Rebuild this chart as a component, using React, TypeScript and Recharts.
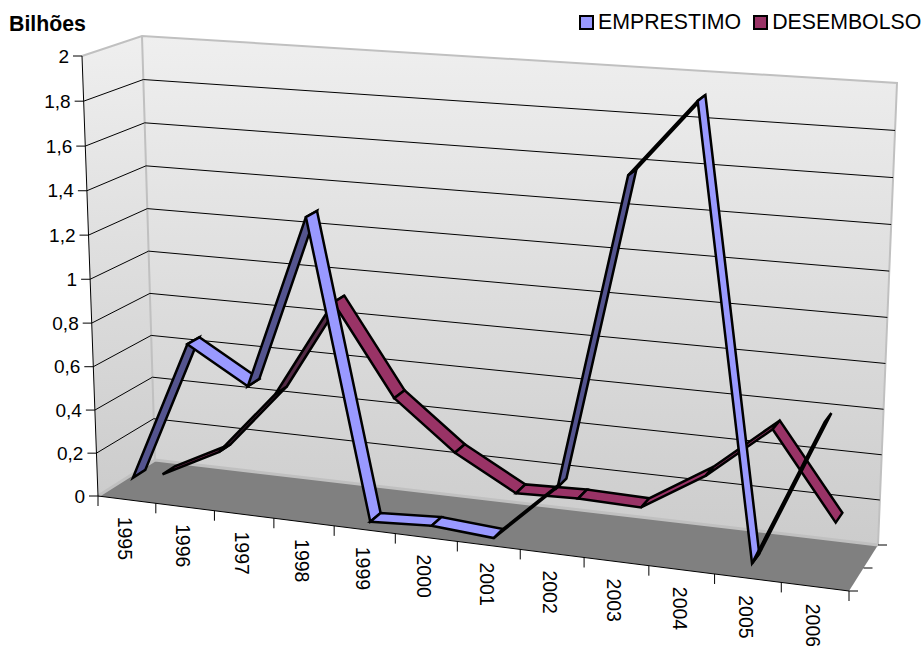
import React from 'react';
import { ComposedChart, Scatter, XAxis, YAxis, Legend } from 'recharts';

const YEARS = ['1995', '1996', '1997', '1998', '1999', '2000', '2001', '2002', '2003', '2004', '2005', '2006'];
const EMPRESTIMO = [0.082, 0.729, 0.567, 1.351, 0.015, 0.031, 0.011, 0.272, 1.646, 1.978, 0.041, 0.683];
const DESEMBOLSO = [0.01, 0.147, 0.45, 0.899, 0.49, 0.271, 0.118, 0.127, 0.12, 0.295, 0.531, 0.154];
const Y_TICKS = [0, 0.2, 0.4, 0.6, 0.8, 1, 1.2, 1.4, 1.6, 1.8, 2];
const SERIES_NAMES = ['EMPRESTIMO', 'DESEMBOLSO'];
const SERIES_COLORS = ['#9999ff', '#993366'];
const SERIES_DARK = ['#54548f', '#532a45'];

const WIDTH = 923;
const HEIGHT = 646;
const FONT = '"Liberation Sans", Arial, sans-serif';

// the 3D box as it lands on the page: [front|back][left|right][bottom|top]
const BOX = {
  flb: [98, 496], frb: [849, 591], blb: [155, 460], brb: [878, 545],
  flt: [82, 56], frt: [869, 111], blt: [142, 36], brt: [897, 83],
};
const lerp = (a: number, b: number, t: number) => a + (b - a) * t;
const PERSPECTIVE_X = 1.09;
const PERSPECTIVE_Y = 1.03;
const foreshorten = (q: number, p: number) => q / (p - (p - 1) * q);

// u = category position 0..1, v = axis value 0..2, w = depth 0..1
function project(u: number, v: number, w: number) {
  const s = foreshorten(u, PERSPECTIVE_X);
  const t = foreshorten(v / 2, PERSPECTIVE_Y);
  return [0, 1].map((k) => {
    const fb = lerp(BOX.flb[k], BOX.frb[k], s);
    const bb = lerp(BOX.blb[k], BOX.brb[k], s);
    const ft = lerp(BOX.flt[k], BOX.frt[k], s);
    const bt = lerp(BOX.blt[k], BOX.brt[k], s);
    return lerp(lerp(fb, bb, w), lerp(ft, bt, w), t);
  });
}

type Pt = number[];
const poly = (points: Pt[], style: any) => ({ x: points[0][0], y: points[0][1], points, ...style });
const label = (p: Pt, text: string, style: any) => ({ x: p[0], y: p[1], text, ...style });

const floorRows = [
  poly([project(0, 0, 0), project(1, 0, 0), project(1, 0, 1), project(0, 0, 1)], { fill: '#808080' }),
];
const wallRows = [
  poly([project(0, 0, 0), project(0, 0, 1), project(0, 2, 1), project(0, 2, 0)], { fill: 'url(#wallLeft)' }),
  poly([project(0, 0, 1), project(1, 0, 1), project(1, 2, 1), project(0, 2, 1)], { fill: 'url(#wallBack)' }),
];
const BORDER = { open: true, stroke: '#c0c0c0', strokeWidth: 2 };
const borderRows = [
  poly([project(0, 0, 0), project(0, 0, 1), project(1, 0, 1)], { ...BORDER, strokeWidth: 3 }),
  poly([project(0, 2, 0), project(0, 2, 1), project(1, 2, 1), project(1, 0, 1)], BORDER),
  poly([project(0, 2, 1), project(0, 0, 1)], BORDER),
];
const gridRows = Y_TICKS.slice(1, -1).map((v) =>
  poly([project(0, v, 0), project(0, v, 1), project(1, v, 1)], { open: true, stroke: '#000', strokeWidth: 1 }),
);

const TICK = { open: true, stroke: '#000', strokeWidth: 1 };
const offset = (p: Pt, dx: number, dy: number) => [p[0] + dx, p[1] + dy];
const axisRows = [
  poly([project(0, 2, 0), project(0, 0, 0), project(1, 0, 0)], TICK),
  ...Y_TICKS.map((v) => poly([project(0, v, 0), offset(project(0, v, 0), -9, 0)], TICK)),
  ...Array.from({ length: YEARS.length + 1 }, (_, i) => {
    const p = project(i / YEARS.length, 0, 0);
    return poly([p, offset(p, 0, 10)], TICK);
  }),
  ...[0, 0.5, 1].map((w) => {
    const p = project(1, 0, w);
    return poly([p, offset(p, 9, 0)], TICK);
  }),
];

const textRows = [
  ...Y_TICKS.map((v) =>
    label(offset(project(0, v, 0), -13, 0), String(v).replace('.', ','), { anchor: 'end', size: 19 }),
  ),
  ...YEARS.map((year, i) => {
    const p = project((i + 0.5) / YEARS.length, 0, 0);
    return label(offset(p, -2, 17), year, { anchor: 'start', rotate: 90, size: 19.5 });
  }),
];
const titleRows = [label([9, 23.5], 'Bilhões', { anchor: 'start', bold: true, size: 21.3 })];

function ribbonRows(values: number[], w0: number, w1: number, light: string, dark: string) {
  const n = values.length;
  return values.slice(0, -1).map((v, i) => {
    const a0 = project((i + 0.5) / n, v, w0);
    const b0 = project((i + 1.5) / n, values[i + 1], w0);
    const b1 = project((i + 1.5) / n, values[i + 1], w1);
    const a1 = project((i + 0.5) / n, v, w1);
    const cross = (b0[0] - a0[0]) * (a1[1] - a0[1]) - (b0[1] - a0[1]) * (a1[0] - a0[0]);
    return poly([a0, b0, b1, a1], { fill: cross > 0 ? dark : light, stroke: '#000', strokeWidth: 2.5 });
  });
}
const backRibbon = ribbonRows(DESEMBOLSO, 0.64, 0.86, SERIES_COLORS[1], SERIES_DARK[1]);
const frontRibbon = ribbonRows(EMPRESTIMO, 0.12, 0.34, SERIES_COLORS[0], SERIES_DARK[0]);

// every shape is anchored on the point the chart's scales give for its first vertex
const PolyShape = (props: any) => {
  const { cx, cy, payload } = props;
  const dx = cx - payload.x;
  const dy = cy - payload.y;
  const pts = payload.points.map((p: Pt) => `${p[0] + dx},${p[1] + dy}`).join(' ');
  const Tag: any = payload.open ? 'polyline' : 'polygon';
  return (
    <Tag
      points={pts}
      fill={payload.open ? 'none' : payload.fill}
      stroke={payload.stroke ?? 'none'}
      strokeWidth={payload.strokeWidth ?? 0}
    />
  );
};

const TextShape = (props: any) => {
  const { cx, cy, payload } = props;
  return (
    <text
      x={cx}
      y={cy}
      textAnchor={payload.anchor}
      dominantBaseline="central"
      fontFamily={FONT}
      fontSize={payload.size}
      fontWeight={payload.bold ? 'bold' : 'normal'}
      fill="#000"
      transform={payload.rotate ? `rotate(${payload.rotate} ${cx} ${cy})` : undefined}
    >
      {payload.text}
    </text>
  );
};

const LegendContent = () => (
  <div style={{ display: 'flex', fontFamily: FONT, fontSize: 21.3, lineHeight: '24px', color: '#000' }}>
    {SERIES_NAMES.map((name, i) => (
      <div key={name} style={{ display: 'flex', alignItems: 'center', marginRight: i === 0 ? 12 : 0 }}>
        <span
          style={{
            width: 11,
            height: 11,
            background: SERIES_COLORS[i],
            border: '2px solid #000',
            marginRight: 4,
            display: 'inline-block',
          }}
        />
        {name}
      </div>
    ))}
  </div>
);

const LAYERS: [string, any[], any][] = [
  ['walls', wallRows, PolyShape],
  ['floor', floorRows, PolyShape],
  ['borders', borderRows, PolyShape],
  ['grid', gridRows, PolyShape],
  ['axes', axisRows, PolyShape],
  [SERIES_NAMES[1], backRibbon, PolyShape],
  [SERIES_NAMES[0], frontRibbon, PolyShape],
  ['labels', textRows, TextShape],
  ['title', titleRows, TextShape],
];

export default function App() {
  return (
    <div style={{ position: 'absolute', left: 0, top: 0, width: WIDTH, height: HEIGHT, overflow: 'hidden', background: '#fff' }}>
      <ComposedChart width={WIDTH} height={HEIGHT} margin={{ top: 0, right: 0, bottom: 0, left: 0 }}>
        <defs>
          <linearGradient id="wallBack" x1="0" y1="0" x2="0" y2="1">
            <stop offset="0%" stopColor="#efefef" />
            <stop offset="100%" stopColor="#cccccc" />
          </linearGradient>
          <linearGradient id="wallLeft" x1="0" y1="0" x2="0" y2="1">
            <stop offset="0%" stopColor="#efefef" />
            <stop offset="100%" stopColor="#cccccc" />
          </linearGradient>
        </defs>
        <XAxis type="number" dataKey="x" domain={[0, WIDTH]} hide />
        <YAxis type="number" dataKey="y" domain={[0, HEIGHT]} reversed hide />
        <Legend
          layout="horizontal"
          verticalAlign="middle"
          content={<LegendContent />}
          wrapperStyle={{ position: 'absolute', left: 579, top: 10, width: 344, bottom: 'auto' }}
        />
        {LAYERS.map(([name, rows, shape]) => (
          <Scatter
            key={name}
            name={name}
            data={rows}
            shape={shape}
            isAnimationActive={false}
            legendType="none"
          />
        ))}
      </ComposedChart>
    </div>
  );
}
